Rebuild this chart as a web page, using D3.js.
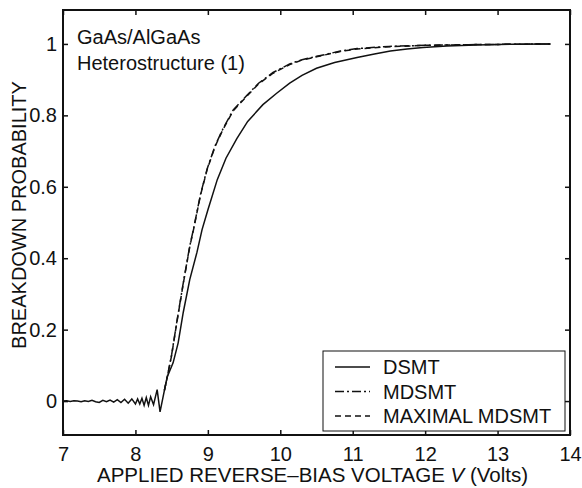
<!DOCTYPE html>
<html><head><meta charset="utf-8">
<script src="https://cdn.jsdelivr.net/npm/d3@7"></script>
<style>body{margin:0;background:#fff}svg{display:block}text{font-family:"Liberation Sans",Arial,sans-serif;fill:#111}</style>
</head><body><svg id="c" width="582" height="488"></svg>
<script>
// Noise region (shared by all curves)
const noiseV = [7.00,7.05,7.10,7.15,7.20,7.25,7.30,7.35,7.40,7.45,7.50,7.55,7.60,7.65,7.70,7.75,7.80,7.85,7.90,7.95,8.00,8.03,8.06,8.09,8.12,8.15,8.18,8.21,8.25,8.30,8.34,8.40];
const noiseP = [0.000,0.001,-0.001,0.001,0.000,-0.002,0.001,-0.001,0.002,-0.002,-0.004,0.002,-0.002,0.003,-0.003,0.004,-0.004,0.005,-0.006,0.006,-0.008,0.006,-0.008,0.008,-0.012,0.010,-0.012,0.012,-0.010,0.032,-0.030,0.030];
// DSMT (solid)
const dsmtV = [8.44,8.52,8.59,8.66,8.75,8.85,8.92,9.00,9.13,9.25,9.40,9.55,9.76,9.95,10.13,10.30,10.50,10.75,11.06,11.30,11.52,11.75,11.97,12.30,12.70,13.20,13.73];
const dsmtP = [0.068,0.107,0.163,0.248,0.340,0.417,0.480,0.535,0.620,0.680,0.735,0.783,0.830,0.862,0.890,0.912,0.932,0.948,0.962,0.972,0.980,0.986,0.990,0.994,0.997,0.999,1.000];
// MDSMT (dash-dot)
const mdsmtV = [8.44,8.50,8.57,8.66,8.75,8.80,8.90,8.99,9.10,9.21,9.35,9.54,9.70,9.90,10.13,10.30,10.59,10.83,11.06,11.50,12.00,12.60,13.20,13.73];
const mdsmtP = [0.068,0.130,0.220,0.330,0.434,0.480,0.580,0.650,0.715,0.763,0.815,0.856,0.890,0.920,0.944,0.956,0.969,0.980,0.987,0.993,0.996,0.998,0.999,1.000];
// MAXIMAL MDSMT (dashed)
const maxV = [8.44,8.50,8.57,8.66,8.75,8.80,8.90,8.99,9.10,9.21,9.35,9.54,9.70,9.90,10.13,10.30,10.59,10.83,11.06,11.50,12.00,12.60,13.20,13.73];
const maxP = [0.068,0.128,0.218,0.328,0.432,0.478,0.578,0.648,0.713,0.761,0.813,0.854,0.888,0.918,0.942,0.955,0.968,0.979,0.986,0.992,0.996,0.998,0.999,1.000];
const xTicks = [7,8,9,10,11,12,13,14];
const yTicks = [0,0.2,0.4,0.6,0.8,1];
const legendLabels = ["DSMT","MDSMT","MAXIMAL MDSMT"];

const svg = d3.select("#c");
const L=63,R=570,T=10,B=435;
const x = d3.scaleLinear().domain([7,14]).range([L,R]);
const y = d3.scaleLinear().domain([-0.095,1.095]).range([B,T]);

const pts = (vs,ps)=>vs.map((v,i)=>[v,ps[i]]);
const noise = pts(noiseV,noiseP);
const series = [
  {pts: noise.concat(pts(dsmtV,dsmtP)), dash:null},
  {pts: pts(noiseV.slice(-1),noiseP.slice(-1)).concat(pts(mdsmtV,mdsmtP)), dash:"9,3,2,3"},
  {pts: pts(noiseV.slice(-1),noiseP.slice(-1)).concat(pts(maxV,maxP)), dash:"6,4"}
];
const line = d3.line().x(d=>x(d[0])).y(d=>y(d[1]));
series.forEach(s=>{
  svg.append("path").attr("d",line(s.pts)).attr("fill","none").attr("stroke","#111")
    .attr("stroke-width",1.5).attr("stroke-dasharray",s.dash);
});

// axes with inward ticks on all sides
const fmt = d=>d===0?"0":d===1?"1":d3.format(".1f")(d);
const bx = svg.append("g").attr("transform",`translate(0,${B})`).call(d3.axisBottom(x).tickValues(xTicks).tickSize(-5).tickPadding(12).tickFormat(d3.format("d")));
const tx = svg.append("g").attr("transform",`translate(0,${T})`).call(d3.axisTop(x).tickValues(xTicks).tickSize(-5).tickFormat(""));
const ly = svg.append("g").attr("transform",`translate(${L},0)`).call(d3.axisLeft(y).tickValues(yTicks).tickSize(-5).tickPadding(6).tickFormat(fmt));
const ry = svg.append("g").attr("transform",`translate(${R},0)`).call(d3.axisRight(y).tickValues(yTicks).tickSize(-5).tickFormat(""));
[bx,tx,ly,ry].forEach(g=>{g.select(".domain").remove();g.selectAll("line").attr("stroke","#111").attr("stroke-width",1.5);
  g.selectAll("text").style("font-size","20px").attr("fill","#111");});
bx.selectAll("text").attr("dy","0.71em");
svg.append("rect").attr("x",L).attr("y",T).attr("width",R-L).attr("height",B-T).attr("fill","none").attr("stroke","#111").attr("stroke-width",2);

// axis titles
const xt = svg.append("text").attr("x",(L+R)/2-4).attr("y",482).attr("text-anchor","middle").style("font-size","20.5px");
xt.append("tspan").text("APPLIED REVERSE\u2013BIAS VOLTAGE ");
xt.append("tspan").attr("font-style","italic").text("V");
xt.append("tspan").text(" (Volts)");
svg.append("text").attr("transform","translate(26,215) rotate(-90)").attr("text-anchor","middle").style("font-size","20px").text("BREAKDOWN PROBABILITY");

// annotation
svg.append("text").attr("x",77).attr("y",44).style("font-size","20px").text("GaAs/AlGaAs");
svg.append("text").attr("x",77).attr("y",70).style("font-size","20px").text("Heterostructure (1)");

// legend
const lg = svg.append("g");
lg.append("rect").attr("x",323).attr("y",351).attr("width",242).attr("height",80).attr("fill","#fff").attr("stroke","#111").attr("stroke-width",1);
const dashes=[null,"9,3,2,3","6,4"];
legendLabels.forEach((t,i)=>{
  const yy = 367+i*24.5;
  lg.append("line").attr("x1",335).attr("x2",370).attr("y1",yy).attr("y2",yy).attr("stroke","#111").attr("stroke-width",1.3).attr("stroke-dasharray",dashes[i]);
  lg.append("text").attr("x",383).attr("y",yy+7).style("font-size","20px").text(t);
});
</script></body></html>
